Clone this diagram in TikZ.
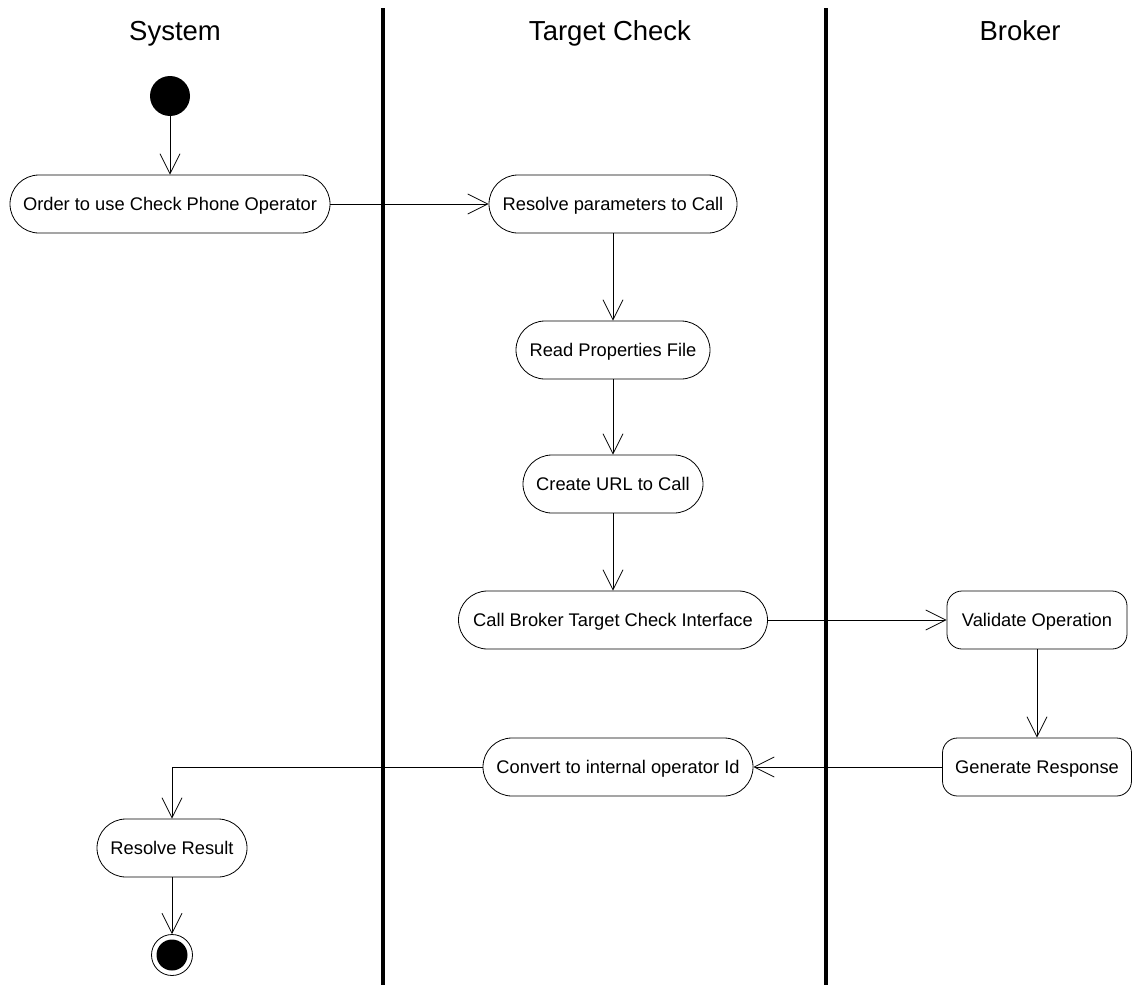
\documentclass[tikz,border=0pt]{standalone}
\usepackage{fontspec}
\setmainfont{Liberation Sans}
\usetikzlibrary{arrows.meta}
\begin{document}
\begin{tikzpicture}[x=1pt,y=-1pt,
  action/.style={draw, line width=0.8pt, rectangle, rounded corners=29pt,
    minimum height=58pt, inner sep=0pt, text height=14pt, text depth=2pt,
    font=\fontsize{18.3}{20}\selectfont},
  brokeraction/.style={action, rounded corners=15pt},
  lanetitle/.style={font=\fontsize{27.5}{30}\selectfont, inner sep=0pt, anchor=base},
  lane/.style={line width=4pt},
  flow/.style={line width=0.8pt, -{Straight Barb[length=20pt,width=20pt,line width=0.8pt]}}]
\useasboundingbox (0,0) rectangle (1133,985);
\fill[white] (0,0) rectangle (1133,985);

% swimlane titles and separators
\node[lanetitle] (tsys) at (175,40) {System};
\node[lanetitle] (ttc) at (610,40) {Target Check};
\node[lanetitle] (tbr) at (1020,40) {Broker};
\coordinate (l1top) at (383,8); \coordinate (l1bot) at (383,985);
\coordinate (l2top) at (826,8); \coordinate (l2bot) at (826,985);
\draw[lane] (l1top) -- (l1bot);
\draw[lane] (l2top) -- (l2bot);

% initial and final states
\node[circle, fill=black, minimum size=40pt, inner sep=0pt] (start) at (170,96) {};
\node[circle, draw, line width=0.8pt, minimum size=41pt, inner sep=0pt] (finish) at (172,955) {};
\node[circle, fill=black, minimum size=31pt, inner sep=0pt] (finishdot) at (172,955) {};

% actions
\node[action, minimum width=320pt] (b1) at (170,204) {Order to use Check Phone Operator};
\node[action, minimum width=248pt] (b2) at (613,204) {Resolve parameters to Call};
\node[action, minimum width=194pt] (b3) at (613,350) {Read Properties File};
\node[action, minimum width=180pt] (b4) at (613,484) {Create URL to Call};
\node[action, minimum width=309pt] (b5) at (613,620) {Call Broker Target Check Interface};
\node[brokeraction, minimum width=180pt] (b6) at (1037,620) {Validate Operation};
\node[brokeraction, minimum width=189pt] (b7) at (1037,767) {Generate Response};
\node[action, minimum width=270pt] (b8) at (618,767) {Convert to internal operator Id};
\node[action, minimum width=150pt] (b9) at (172,848) {Resolve Result};

% control flow
\draw[flow] (start) -- (b1);
\draw[flow] (b1) -- (b2);
\draw[flow] (b2) -- (b3);
\draw[flow] (b3) -- (b4);
\draw[flow] (b4) -- (b5);
\draw[flow] (b5) -- (b6);
\draw[flow] (b6) -- (b7);
\draw[flow] (b7) -- (b8);
\draw[flow] (b8.west) -| (b9.north);
\draw[flow] (b9) -- (finish);
\end{tikzpicture}
\end{document}
